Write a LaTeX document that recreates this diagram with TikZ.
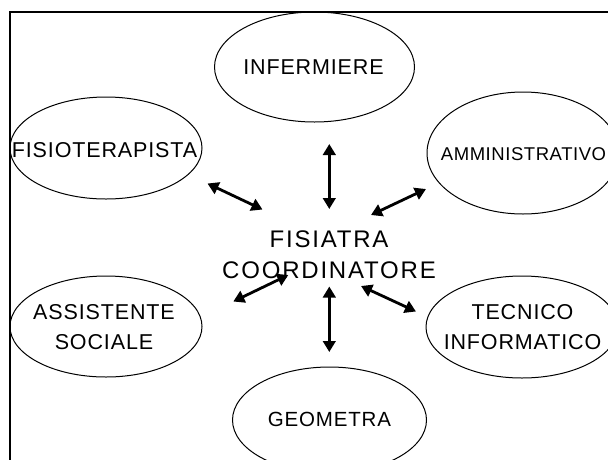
\documentclass[tikz,border=0pt]{standalone}
\usepackage{fontspec}
\setmainfont{Liberation Sans}[LetterSpace=4]
\newfontfamily\centerfont{Liberation Sans}[LetterSpace=7.5]
\newfontfamily\smallfont{Liberation Sans}[LetterSpace=3]
\usetikzlibrary{shapes.geometric,arrows.meta}
\begin{document}
\begin{tikzpicture}[x=1pt,y=-1pt,
  oval/.style={ellipse, draw, line width=1pt, inner sep=0pt},
  lbl/.style={align=center, inner sep=0pt, font=\fontsize{21.5}{30}\selectfont},
  link/.style={line width=2.8pt, {Triangle[length=11pt,width=12.5pt]}-{Triangle[length=11pt,width=12.5pt]}}]
\useasboundingbox (0,0) rectangle (608,459);
\clip (0,0) rectangle (608,459);
% frame
\draw[line width=2pt, line join=miter] (10,470) -- (10,12) -- (620,12);
% ellipses
\node[oval, minimum width=200pt, minimum height=110pt] (infE) at (314.5,67) {};
\node[oval, minimum width=192pt, minimum height=102pt] (fisE) at (106,148) {};
\node[oval, minimum width=192pt, minimum height=122pt] (ammE) at (523,153) {};
\node[oval, minimum width=192pt, minimum height=101pt] (assE) at (106,326.5) {};
\node[oval, minimum width=192pt, minimum height=102pt] (tecE) at (522,327) {};
\node[oval, minimum width=194pt, minimum height=106pt] (geoE) at (329.5,420) {};
% labels
\node[lbl] (inf) at (313.5,67.5) {INFERMIERE};
\node[lbl] (fis) at (104.5,150.5) {FISIOTERAPISTA};
\node[lbl, font=\smallfont\fontsize{18.5}{22}\selectfont] (amm) at (523.5,154.5) {AMMINISTRATIVO};
\node[lbl] (ass) at (104,327) {ASSISTENTE\\SOCIALE};
\node[lbl] (tec) at (522.5,327.5) {TECNICO\\INFORMATICO};
\node[lbl, font=\fontsize{20.5}{30}\selectfont] (geo) at (329.5,419) {GEOMETRA};
\node[lbl, font=\centerfont\fontsize{24}{31.5}\selectfont] (fc) at (329,254.5) {FISIATRA\\COORDINATORE};
% arrow ends
\coordinate (fisA) at (207.5,183.5);  \coordinate (fisB) at (262.5,209.5);
\coordinate (infA) at (329.3,144);    \coordinate (infB) at (329.3,209);
\coordinate (ammA) at (426,189);      \coordinate (ammB) at (371,215);
\coordinate (assA) at (233.3,301.5);  \coordinate (assB) at (288.3,275);
\coordinate (geoA) at (329.3,352);    \coordinate (geoB) at (329.3,286.5);
\coordinate (tecA) at (416,311.5);    \coordinate (tecB) at (361,286);
% arrows
\draw[link] (fisA) -- (fisB);
\draw[link] (infA) -- (infB);
\draw[link] (ammA) -- (ammB);
\draw[link] (assA) -- (assB);
\draw[link] (geoA) -- (geoB);
\draw[link] (tecA) -- (tecB);
\end{tikzpicture}
\end{document}
